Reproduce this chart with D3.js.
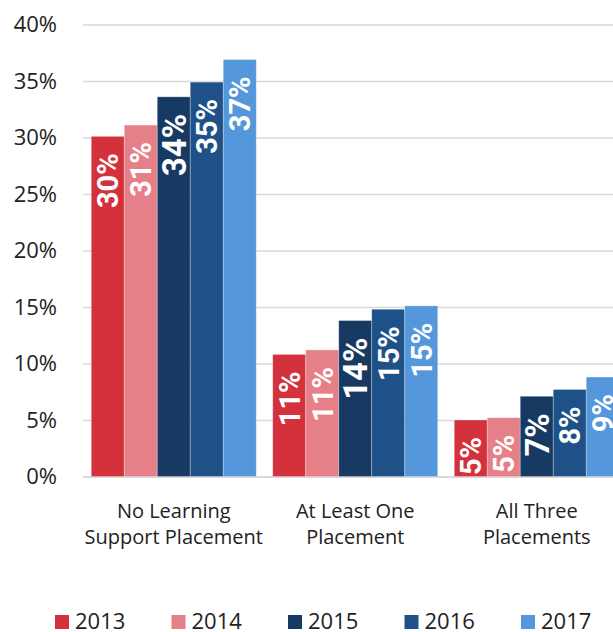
<!DOCTYPE html>
<html>
<head>
<meta charset="utf-8">
<script src="https://cdn.jsdelivr.net/npm/d3@7"></script>
<style>
  html, body { margin: 0; padding: 0; background: #fff; overflow: hidden; }
  svg { display: block; font-family: "Open Sans", "DejaVu Sans", sans-serif; }
</style>
</head>
<body>
<svg id="chart" width="613" height="632"></svg>
<script>
// Data
const categories = [
    ['No Learning', 'Support Placement'],
    ['At Least One', 'Placement'],
    ['All Three', 'Placements']
];
const years = ['2013', '2014', '2015', '2016', '2017'];
const values = {
    '2013': [30.1, 10.8, 5.0],
    '2014': [31.1, 11.2, 5.2],
    '2015': [33.6, 13.8, 7.1],
    '2016': [34.9, 14.8, 7.7],
    '2017': [36.9, 15.1, 8.8]
};
const valueLabels = {
    '2013': ['30%', '11%', '5%'],
    '2014': ['31%', '11%', '5%'],
    '2015': ['34%', '14%', '7%'],
    '2016': ['35%', '15%', '8%'],
    '2017': ['37%', '15%', '9%']
};
const yTicks = [0, 5, 10, 15, 20, 25, 30, 35, 40];

const colors = {
    '2013': '#d3313b',
    '2014': '#e68088',
    '2015': '#173a63',
    '2016': '#1f5189',
    '2017': '#5497db'
};

const svg = d3.select('#chart');

// plot area (runs past the right edge of the window, like the reference)
const plot = { left: 83, right: 627.5, top: 24.5, bottom: 476.5 };

const yScale = d3.scaleLinear()
    .domain([0, 40])
    .range([plot.bottom, plot.top]);

const groupKeys = categories.map((c) => c.join(' '));
const xScale = d3.scaleBand()
    .domain(groupKeys)
    .range([plot.left, plot.right])
    .paddingInner(0.0909)
    .paddingOuter(0.0455);

const xInner = d3.scaleBand()
    .domain(years)
    .range([0, xScale.bandwidth()]);

// gridlines + tick labels
const yAxis = svg.append('g')
    .attr('class', 'y-axis')
    .attr('transform', `translate(${plot.left},0)`)
    .call(d3.axisLeft(yScale)
        .tickValues(yTicks)
        .tickSize(-(plot.right - plot.left))
        .tickPadding(26)
        .tickFormat((d) => d + '%'));
yAxis.select('.domain').remove();
yAxis.selectAll('.tick line')
    .attr('stroke', '#d9d9d9')
    .attr('stroke-width', (d) => d === 0 ? 2 : 1.5);
yAxis.selectAll('.tick text')
    .attr('fill', '#222')
    .attr('font-size', 22)
    .attr('font-family', '"Open Sans", sans-serif');

// bars, one group per category
const groups = svg.selectAll('g.group')
    .data(categories)
    .enter()
    .append('g')
    .attr('class', 'group')
    .attr('transform', (d, i) => `translate(${xScale(groupKeys[i])},0)`);

years.forEach((year) => {
    groups.append('rect')
        .attr('x', xInner(year))
        .attr('width', xInner.bandwidth())
        .attr('y', (d, i) => yScale(values[year][i]))
        .attr('height', (d, i) => yScale(0) - yScale(values[year][i]))
        .attr('fill', colors[year])
        .attr('stroke', '#fff')
        .attr('stroke-opacity', 0.35)
        .attr('stroke-width', 0.8);
});

// rotated value labels inside the bars
years.forEach((year) => {
    groups.append('text')
        .attr('transform', (d, i) => {
            const cx = xInner(year) + xInner.bandwidth() / 2;
            return `translate(${cx},${yScale(values[year][i]) + 17}) rotate(-90)`;
        })
        .attr('text-anchor', 'end')
        .attr('dy', '0.36em')
        .attr('fill', '#fff')
        .attr('font-family', 'Roboto, "Open Sans", sans-serif')
        .attr('font-weight', 'bold')
        .attr('font-size', year === '2015' ? 33 : 29)
        .text((d, i) => valueLabels[year][i]);
});

// category labels (two lines each)
groups.append('text')
    .attr('x', xScale.bandwidth() / 2)
    .attr('text-anchor', 'middle')
    .attr('fill', '#222')
    .attr('font-size', 20)
    .selectAll('tspan')
    .data((d) => d)
    .enter()
    .append('tspan')
    .attr('x', xScale.bandwidth() / 2)
    .attr('y', (d, i) => 518 + i * 26)
    .text((d) => d);

// legend
const legendConfig = { x: 55, step: 116.5, y: 615, side: 14 };
const legend = svg.append('g')
    .attr('class', 'legend')
    .selectAll('g')
    .data(years)
    .enter()
    .append('g')
    .attr('transform', (d, i) => `translate(${legendConfig.x + i * legendConfig.step},${legendConfig.y})`);

legend.append('rect')
    .attr('width', legendConfig.side)
    .attr('height', legendConfig.side)
    .attr('fill', (d) => colors[d]);

legend.append('text')
    .attr('x', legendConfig.side + 6)
    .attr('y', legendConfig.side)
    .attr('fill', '#222')
    .attr('font-size', 22)
    .text((d) => d);
</script>
</body>
</html>
